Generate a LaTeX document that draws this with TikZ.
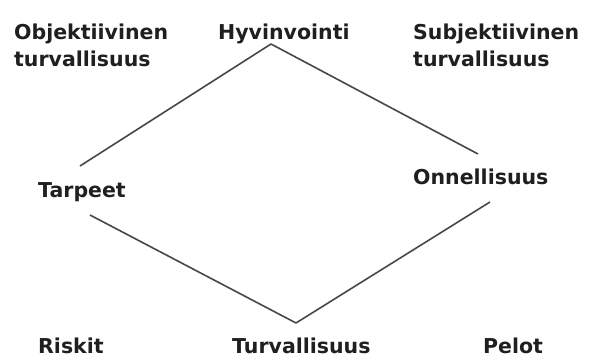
\documentclass[tikz,border=0pt]{standalone}
\usepackage{fontspec}
\setmainfont{DejaVu Sans}
\begin{document}
\begin{tikzpicture}[x=1pt,y=-1pt,
  lbl/.style={anchor=base west,inner sep=0pt,font=\bfseries\fontsize{20.5}{27}\selectfont,text=black!88},
  lbltwo/.style={lbl,align=left},
  link/.style={draw=black!72,line width=1.6pt,line join=round}]
\useasboundingbox (0,0) rectangle (590,358);
% labels (two-line labels are anchored at the baseline of their last line)
\node[lbltwo] (obj)  at (14,67)  {Objektiivinen\\turvallisuus};
\node[lbl]    (hyv)  at (218,40) {Hyvinvointi};
\node[lbltwo] (subj) at (413,67) {Subjektiivinen\\turvallisuus};
\node[lbl]    (tar)  at (38,198) {Tarpeet};
\node[lbl]    (onn)  at (413,185) {Onnellisuus};
\node[lbl]    (ris)  at (38,354) {Riskit};
\node[lbl]    (tur)  at (232,354) {Turvallisuus};
\node[lbl]    (pel)  at (483,354) {Pelot};
% line ends next to the labels
\coordinate (tarN) at (80,166);
\coordinate (hyvS) at (271,44);
\coordinate (onnN) at (478,154);
\coordinate (tarS) at (90,215);
\coordinate (turN) at (296,323);
\coordinate (onnS) at (490,202);
% the two bent connectors
\draw[link] (tarN) -- (hyvS) -- (onnN);
\draw[link] (tarS) -- (turN) -- (onnS);
\end{tikzpicture}
\end{document}
